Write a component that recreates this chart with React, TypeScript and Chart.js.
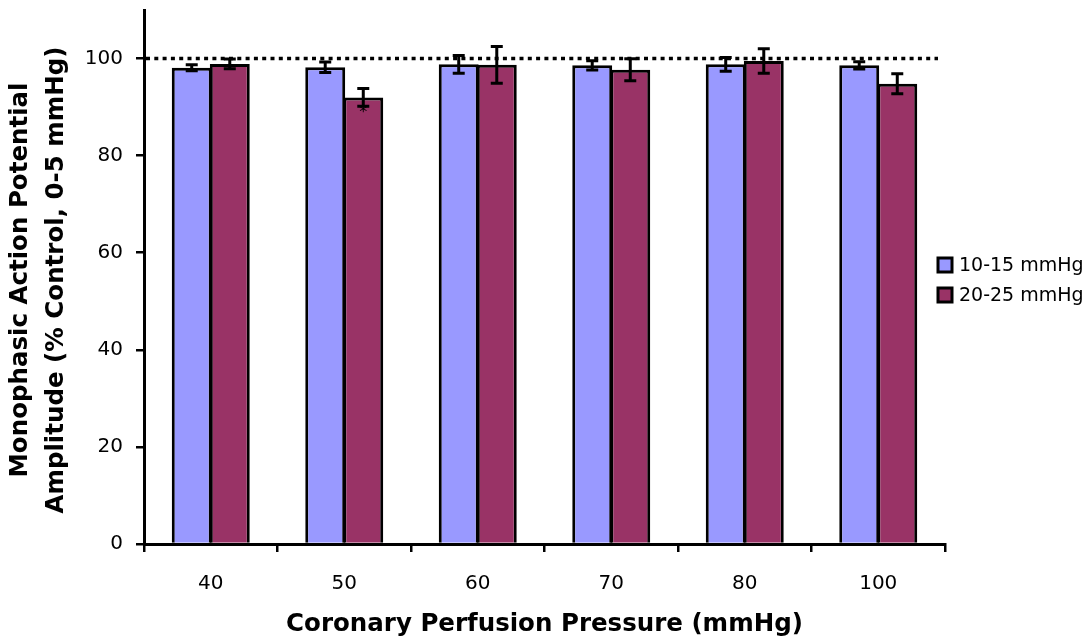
import React, { useEffect, useRef } from "react";
import { Chart, registerables } from "chart.js";

Chart.register(...registerables);

const categories = ["40", "50", "60", "70", "80", "100"];
const seriesNames = ["10-15 mmHg", "20-25 mmHg"];
const values1015 = [98.1, 98.2, 98.8, 98.6, 98.8, 98.6];
const errors1015 = [0.62, 1.07, 1.82, 0.96, 1.41, 0.75];
const values2025 = [98.9, 92.0, 98.7, 97.7, 99.5, 94.8];
const errors2025 = [1.0, 1.85, 3.78, 2.27, 2.54, 2.06];
const significant2025 = [false, true, false, false, false, false];
const yTicks = [0, 20, 40, 60, 80, 100];
const referenceLevel = 100;
const yTitleLines = ["Monophasic Action Potential", "Amplitude (% Control, 0-5 mmHg)"];
const xTitle = "Coronary Perfusion Pressure (mmHg)";

const colors = ["#9999FF", "#993366"];
const FONT = "'DejaVu Sans', Verdana, sans-serif";

const extrasPlugin = {
  id: "extras",
  afterDatasetsDraw(chart: any) {
    const { ctx, chartArea, scales } = chart;
    const y = scales.y;
    // dotted reference line
    const yr = y.getPixelForValue(referenceLevel);
    ctx.save();
    ctx.strokeStyle = "#000";
    ctx.lineWidth = 3.5;
    ctx.setLineDash([4, 4.3]);
    ctx.beginPath();
    ctx.moveTo(chartArea.left + 2, yr);
    ctx.lineTo(chartArea.right - 7, yr);
    ctx.stroke();
    ctx.setLineDash([]);
    // error bars
    const errs = [errors1015, errors2025];
    const vals = [values1015, values2025];
    ctx.lineWidth = 3;
    chart.data.datasets.forEach((ds: any, di: number) => {
      const meta = chart.getDatasetMeta(di);
      meta.data.forEach((bar: any, i: number) => {
        const x = bar.x;
        const top = y.getPixelForValue(vals[di][i] + errs[di][i]);
        const bot = y.getPixelForValue(vals[di][i] - errs[di][i]);
        const cw = 6;
        ctx.beginPath();
        ctx.moveTo(x, top);
        ctx.lineTo(x, bot);
        ctx.moveTo(x - cw, top);
        ctx.lineTo(x + cw, top);
        ctx.moveTo(x - cw, bot);
        ctx.lineTo(x + cw, bot);
        ctx.stroke();
        if (di === 1 && significant2025[i]) {
          ctx.fillStyle = "#000";
          ctx.font = `16px ${FONT}`;
          ctx.textAlign = "center";
          ctx.textBaseline = "middle";
          ctx.fillText("*", x, bot + 6);
        }
      });
    });
    ctx.restore();
  },
  afterDraw(chart: any) {
    const { ctx } = chart;
    ctx.save();
    // y-axis title (two lines)
    ctx.fillStyle = "#000";
    ctx.font = `bold 24.5px ${FONT}`;
    ctx.textAlign = "center";
    ctx.textBaseline = "middle";
    const lineX = [21, 57];
    yTitleLines.forEach((t, i) => {
      ctx.save();
      ctx.translate(lineX[i], 280);
      ctx.rotate(-Math.PI / 2);
      ctx.fillText(t, 0, 0);
      ctx.restore();
    });
    // legend
    const centers = [265, 295];
    ctx.font = `19px ${FONT}`;
    ctx.textAlign = "left";
    seriesNames.forEach((name, i) => {
      const cy = centers[i];
      ctx.fillStyle = colors[i];
      ctx.fillRect(938, cy - 7, 14, 14);
      ctx.strokeStyle = "#000";
      ctx.lineWidth = 3;
      ctx.strokeRect(938, cy - 7, 14, 14);
      ctx.fillStyle = "#000";
      ctx.fillText(name, 959, cy + 1);
    });
    ctx.restore();
  },
};

export default function App() {
  const ref = useRef<HTMLCanvasElement>(null);
  useEffect(() => {
    document.body.style.margin = "0";
    const chart = new Chart(ref.current!, {
      type: "bar",
      data: {
        labels: categories,
        datasets: [
          {
            label: seriesNames[0],
            data: values1015,
            backgroundColor: colors[0],
            borderColor: "#000",
            borderWidth: 3,
          },
          {
            label: seriesNames[1],
            data: values2025,
            backgroundColor: colors[1],
            borderColor: "#000",
            borderWidth: 3,
          },
        ],
      },
      options: {
        responsive: false,
        animation: false,
        layout: { padding: { top: 10, right: 144, left: 0, bottom: 0 } },
        datasets: { bar: { categoryPercentage: 0.57, barPercentage: 1.05 } },
        plugins: { legend: { display: false }, tooltip: { enabled: false } },
        scales: {
          x: {
            type: "category",
            offset: true,
            grid: {
              display: true,
              offset: true,
              drawOnChartArea: false,
              drawTicks: true,
              tickLength: 8,
              color: "#000",
              lineWidth: 2.5,
            },
            border: { display: true, color: "#000", width: 3 },
            ticks: { color: "#000", font: { family: FONT, size: 20 }, padding: 20 },
            title: {
              display: true,
              text: xTitle,
              color: "#000",
              font: { family: FONT, size: 24.5, weight: "bold" },
              padding: { top: 0, bottom: 4 },
            },
            afterFit(scale: any) {
              scale.height = 99;
              scale.paddingLeft = 0;
              scale.paddingRight = 0;
            },
          },
          y: {
            min: 0,
            max: 110,
            grid: {
              display: true,
              drawOnChartArea: false,
              drawTicks: true,
              tickLength: 8,
              color: "#000",
              lineWidth: 2.5,
            },
            border: { display: true, color: "#000", width: 3 },
            ticks: {
              stepSize: 20,
              color: "#000",
              font: { family: FONT, size: 20 },
              padding: 13,
            },
            afterBuildTicks(scale: any) {
              scale.ticks = yTicks.map((v) => ({ value: v }));
            },
            afterFit(scale: any) {
              scale.width = 144;
              scale.paddingTop = 0;
              scale.paddingBottom = 0;
            },
          },
        },
      },
      plugins: [extrasPlugin],
    });
    return () => chart.destroy();
  }, []);
  return (
    <div style={{ width: 1089, height: 643 }}>
      <canvas ref={ref} width={1089} height={643} />
    </div>
  );
}
